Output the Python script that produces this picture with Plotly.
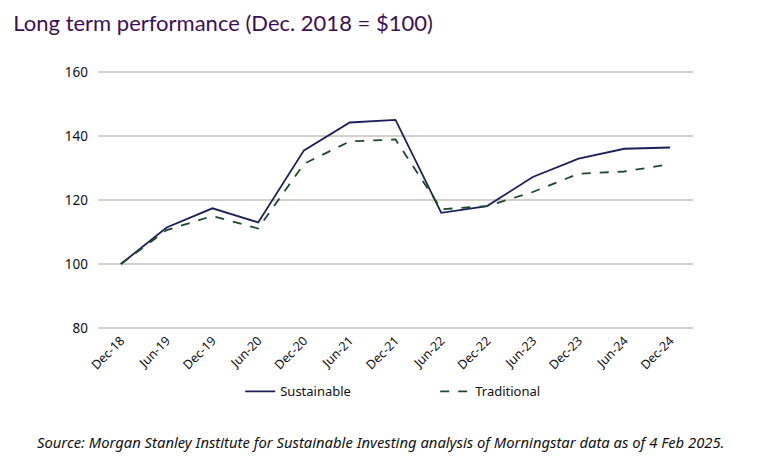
import plotly.graph_objects as go

categories = ["Dec-18", "Jun-19", "Dec-19", "Jun-20", "Dec-20", "Jun-21", "Dec-21",
              "Jun-22", "Dec-22", "Jun-23", "Dec-23", "Jun-24", "Dec-24"]
sustainable = [100, 111.4, 117.4, 113.0, 135.5, 144.2, 145.0, 116.0, 118.1, 127.2, 132.9, 136.0, 136.4]
traditional = [100, 110.6, 115.0, 111.1, 131.3, 138.3, 138.9, 117.1, 118.1, 122.5, 128.2, 128.9, 131.2]
y_ticks = [80, 100, 120, 140, 160]

fig = go.Figure()
fig.add_trace(go.Scatter(x=categories, y=sustainable, name="Sustainable", mode="lines",
                         line=dict(color="#1c1f5c", width=1.8)))
fig.add_trace(go.Scatter(x=categories, y=traditional, name="Traditional", mode="lines",
                         line=dict(color="#1e4a2a", width=1.8, dash="dash")))

fig.update_layout(
    width=760, height=463,
    margin=dict(l=90, r=75, t=62, b=141, autoexpand=False),
    paper_bgcolor="white", plot_bgcolor="white",
    font=dict(family="Noto Sans", size=12, color="#111111"),
    title=dict(text="Long term performance (Dec. 2018 = $100)", x=0.007, xanchor="left",
               y=0.968, yanchor="middle",
               font=dict(family="Lato", size=22, color="#3c1053")),
    xaxis=dict(type="category", range=[-0.5, 12.5], tickangle=-45, showgrid=False,
               ticks="", showline=False, automargin=False,
               tickfont=dict(size=12.5, color="#111111")),
    yaxis=dict(range=[79.4, 160.6], tickvals=y_ticks, showgrid=True, gridcolor="#d3d0c9",
               gridwidth=1.5, zeroline=False, ticks="", showline=False, automargin=False,
               ticklabelstandoff=9,
               tickfont=dict(size=13.5, color="#111111")),
    legend=dict(orientation="h", x=0.239, xanchor="left", y=-0.236, yanchor="middle",
                entrywidth=150, font=dict(size=13, color="#111111")),
    showlegend=True,
)
fig.add_annotation(text="<i>Source: Morgan Stanley Institute for Sustainable Investing analysis of Morningstar data as of 4 Feb 2025.</i>",
                   xref="paper", yref="paper", x=0.474, y=-0.432, xanchor="center", yanchor="middle",
                   showarrow=False, font=dict(family="Noto Sans", size=14.8, color="#111111"))

fig.write_html("out.html")
